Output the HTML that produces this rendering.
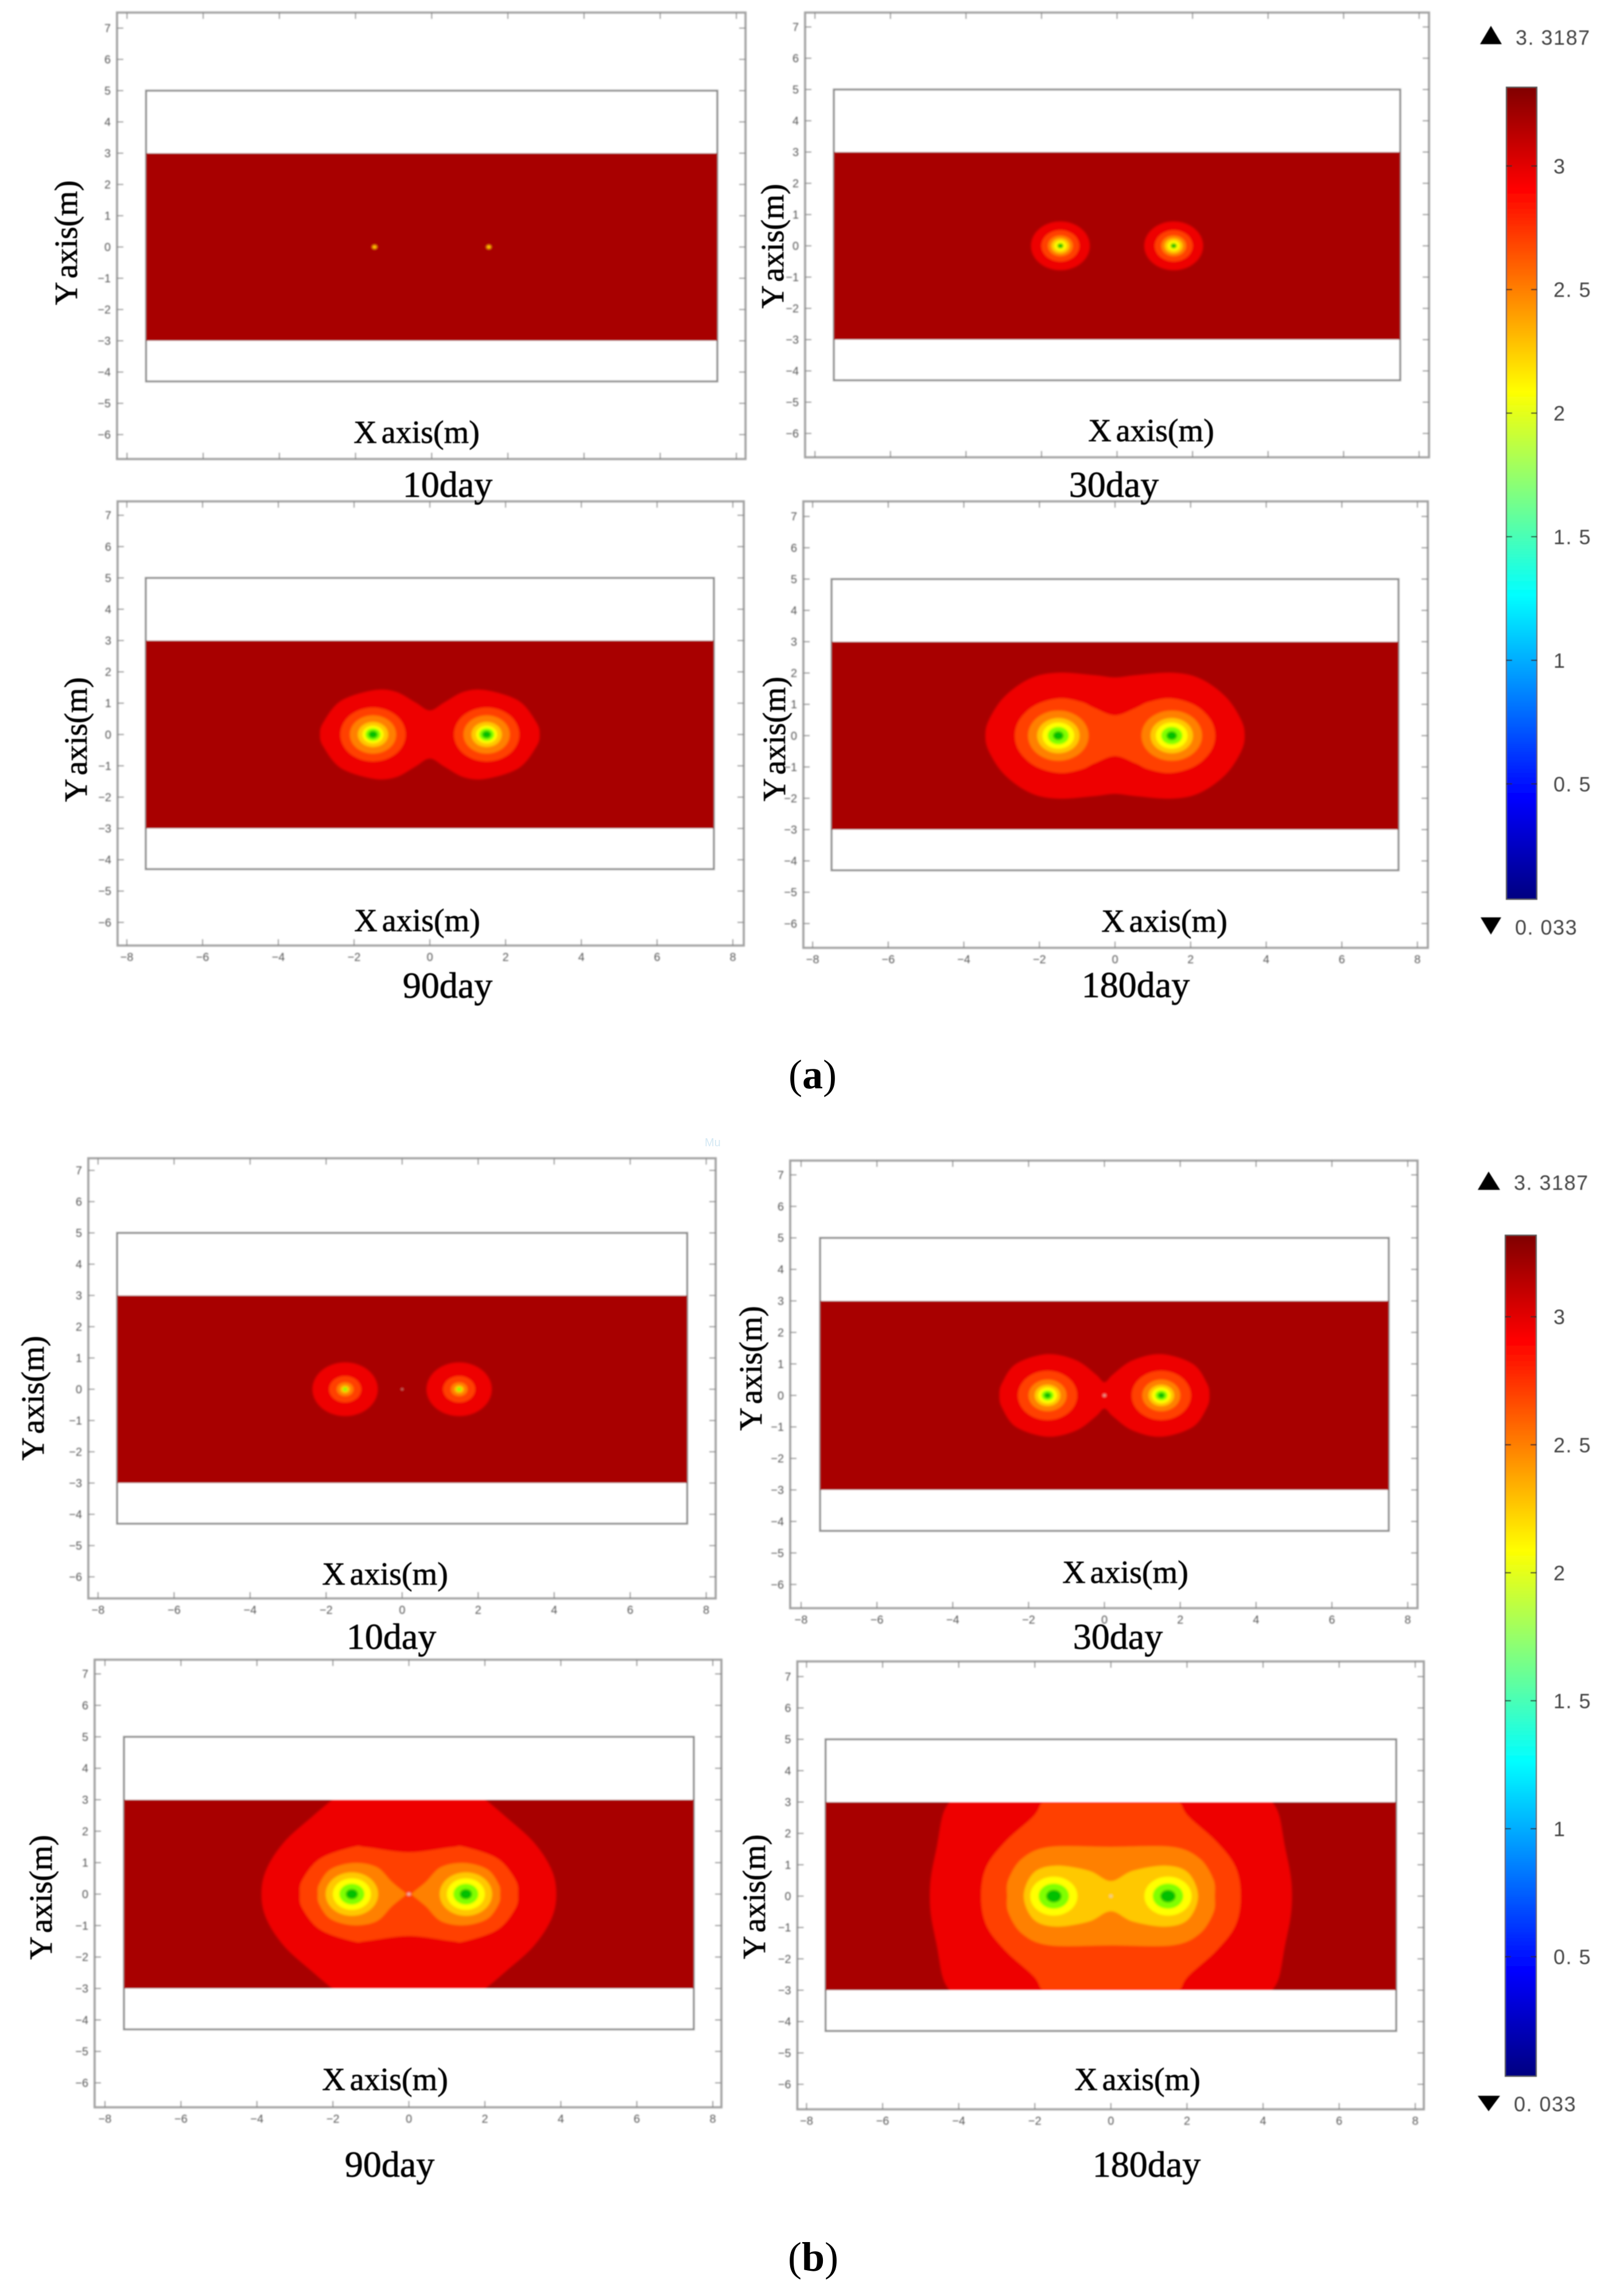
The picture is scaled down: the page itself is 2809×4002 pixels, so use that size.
<!DOCTYPE html>
<html lang="en">
<head>
<meta charset="utf-8">
<title>Contour plots of head distribution at 10, 30, 90 and 180 days</title>
<style>
html,body{margin:0;padding:0;background:#fff;}
svg{display:block;}
.serif{font-family:"Liberation Serif",serif;fill:#000;stroke:#000;stroke-width:0.7px;}
.axis-title{font-size:56px;text-anchor:middle;word-spacing:-6px;}
.day-title{font-size:64px;text-anchor:middle;}
.cbar{font-family:"Liberation Sans",sans-serif;font-size:36px;fill:#444;letter-spacing:1.5px;}
.tick{font-family:"Liberation Sans",sans-serif;font-size:20px;fill:#555;}
</style>
</head>
<body>
<svg id="figure" xmlns="http://www.w3.org/2000/svg" width="2809" height="4002" viewBox="0 0 2809 4002">
  <defs>
    <filter id="soft" filterUnits="userSpaceOnUse" x="0" y="0" width="2809" height="4002"><feGaussianBlur stdDeviation="1.3"/></filter>
    <filter id="softText" filterUnits="userSpaceOnUse" x="0" y="0" width="2809" height="4002"><feGaussianBlur stdDeviation="0.9"/></filter>
    <filter id="softBands" filterUnits="userSpaceOnUse" x="0" y="0" width="2809" height="4002"><feGaussianBlur stdDeviation="1.6"/></filter>
    <linearGradient id="cbarGradient" x1="0" y1="1" x2="0" y2="0"></linearGradient>
  </defs>
  <rect x="0" y="0" width="2809" height="4002" fill="#fff"/>
  <g id="plots" filter="url(#soft)"></g>
  <g id="cbars" filter="url(#softText)">
    <polygon points="2579,77 2617,77 2598,45" fill="#000"/>
    <text class="cbar" x="2641" y="78">3. 3187</text>
    <polygon points="2580,1599 2616,1599 2598,1629" fill="#000"/>
    <text class="cbar" x="2640" y="1629">0. 033</text>
    <polygon points="2575,2074 2614,2074 2594,2042" fill="#000"/>
    <text class="cbar" x="2638" y="2074">3. 3187</text>
    <polygon points="2575,3653 2614,3653 2594,3680" fill="#000"/>
    <text class="cbar" x="2638" y="3680">0. 033</text>
  </g>
  <g id="labels" filter="url(#softText)">
    <text class="serif axis-title" x="726" y="772">X axis(m)</text>
    <text class="serif axis-title" transform="translate(134,423) rotate(-90)">Y axis(m)</text>
    <text class="serif day-title" x="780" y="866">10day</text>

    <text class="serif axis-title" x="2006" y="769">X axis(m)</text>
    <text class="serif axis-title" transform="translate(1365,429) rotate(-90)">Y axis(m)</text>
    <text class="serif day-title" x="1941" y="866">30day</text>

    <text class="serif axis-title" x="727" y="1623">X axis(m)</text>
    <text class="serif axis-title" transform="translate(151,1289) rotate(-90)">Y axis(m)</text>
    <text class="serif day-title" x="780" y="1739">90day</text>

    <text class="serif axis-title" x="2029" y="1624">X axis(m)</text>
    <text class="serif axis-title" transform="translate(1368,1288) rotate(-90)">Y axis(m)</text>
    <text class="serif day-title" x="1979" y="1738">180day</text>

    <text class="serif axis-title" x="671" y="2762">X axis(m)</text>
    <text class="serif axis-title" transform="translate(76,2437) rotate(-90)">Y axis(m)</text>
    <text class="serif day-title" x="682" y="2874">10day</text>

    <text class="serif axis-title" x="1961" y="2759">X axis(m)</text>
    <text class="serif axis-title" transform="translate(1327,2385) rotate(-90)">Y axis(m)</text>
    <text class="serif day-title" x="1948" y="2874">30day</text>

    <text class="serif axis-title" x="671" y="3643">X axis(m)</text>
    <text class="serif axis-title" transform="translate(90,3307) rotate(-90)">Y axis(m)</text>
    <text class="serif day-title" x="679" y="3794">90day</text>

    <text class="serif axis-title" x="1982" y="3643">X axis(m)</text>
    <text class="serif axis-title" transform="translate(1333,3306) rotate(-90)">Y axis(m)</text>
    <text class="serif day-title" x="1998" y="3794">180day</text>
  </g>
  <text x="1416" y="1897" text-anchor="middle" style="font-family:'Liberation Serif',serif;font-size:72px;fill:#000;">(<tspan font-weight="bold">a</tspan>)</text>
  <text x="1417" y="3958" text-anchor="middle" style="font-family:'Liberation Serif',serif;font-size:72px;fill:#000;">(<tspan font-weight="bold">b</tspan>)</text>
  <text x="1228" y="1998" style="font-family:'Liberation Sans',sans-serif;font-size:20px;fill:#d5e9f4;">Mu</text>
</svg>
<script>
// ---- axis values ----
const xTickValues = [-8, -6, -4, -2, 0, 2, 4, 6, 8];
const yTickValues = [7, 6, 5, 4, 3, 2, 1, 0, -1, -2, -3, -4, -5, -6];
const wellPositions = [-1.5, 1.5];

// ---- contour bands: head value and its flat fill ----
const bandLevels = [3.2, 3, 2.75, 2.5, 2.25, 2, 1.6, 1.2];
const bandColors = ['#a80000', '#ee0000', '#ff4000', '#ff8000', '#ffc800', '#ffff00', '#80ff00', '#00c000'];

// ---- colour bar ----
const colorbarMax = 3.3187;
const colorbarMin = 0.033;
const colorbarStopFractions = [0, 0.125, 0.375, 0.625, 0.875, 1];
const colorbarStopColors = ['#000080', '#0000ff', '#00ffff', '#ffff00', '#ff0000', '#800000'];
const colorbarTickValues = [3, 2.5, 2, 1.5, 1, 0.5];
const colorbarTickLabels = ['3', '2. 5', '2', '1. 5', '1', '0. 5'];

// ---- contours, in metres ----
// rings: [level, radius around each well]
// outlines: [level, upper-right quarter outline points [x, y]]
const a10Rings = [[2.25, 0.07]];
const a10Outlines = [];
const a10Spot = [];

const a30Rings = [[3, 0.78], [2.75, 0.5], [2.5, 0.33], [2.25, 0.24], [2, 0.16], [1.2, 0.08]];
const a30Outlines = [];
const a30Spot = [];

const a90Rings = [[2.75, 0.86], [2.5, 0.61], [2.25, 0.4], [2, 0.28], [1.6, 0.2], [1.2, 0.12]];
const a90Outlines = [
  [3, [[0, 0.77], [0.39, 1.03], [0.91, 1.37], [1.5, 1.41], [2.35, 1.07], [2.81, 0.39], [2.9, 0]]]
];
const a90Spot = [];

const a180Rings = [[2.5, 0.8], [2.25, 0.56], [2, 0.42], [1.6, 0.28], [1.2, 0.14]];
const a180Outlines = [
  [3, [[0, 1.86], [0.54, 1.93], [1.5, 2.01], [2.24, 1.83], [2.92, 1.25], [3.33, 0.52], [3.43, 0]]],
  [2.75, [[0, 0.65], [0.54, 0.88], [0.88, 1.07], [1.46, 1.19], [2.1, 0.98], [2.52, 0.52], [2.65, 0]]]
];
const a180Spot = [];

const b10Rings = [[3, 0.86], [2.75, 0.42], [2.5, 0.22], [2.25, 0.12], [1.6, 0.06]];
const b10Outlines = [];
const b10Spot = [0.03];

const b30Rings = [[2.75, 0.78], [2.5, 0.5], [2.25, 0.34], [2, 0.25], [1.6, 0.16], [1.2, 0.09]];
const b30Outlines = [
  [3, [[0, 0.42], [0.23, 0.67], [0.74, 1.11], [1.5, 1.31], [2.33, 1], [2.7, 0.39], [2.77, 0]]]
];
const b30Spot = [0.03];

const b90Rings = [[2.25, 0.69], [2, 0.5], [1.6, 0.33], [1.2, 0.16]];
const b90Outlines = [
  [3, [[0, 3.4], [1.6, 3.4], [2.02, 3], [2.54, 2.47], [3.28, 1.66], [3.75, 0.79], [3.88, 0]]],
  [2.75, [[0, 1.33], [1.12, 1.49], [1.46, 1.5], [2.33, 1.13], [2.8, 0.46], [2.87, 0]]],
  [2.5, [[0.06, 0], [0.12, 0.06], [0.45, 0.39], [0.85, 0.86], [1.46, 0.99], [2.06, 0.79], [2.36, 0.32], [2.4, 0]]]
];
const b90Spot = [0.04];

const b180Rings = [[2, 0.62], [1.6, 0.4], [1.2, 0.2]];
const b180Outlines = [
  [3, [[0, 3.6], [3.9, 3.6], [4.25, 3], [4.43, 2.55], [4.57, 1.61], [4.72, 0.7], [4.76, 0]]],
  [2.75, [[0, 3.4], [1.5, 3.4], [1.81, 3], [2.03, 2.55], [2.76, 1.75], [3.27, 0.94], [3.41, 0]]],
  [2.5, [[0, 1.57], [1.6, 1.57], [2.32, 1.21], [2.69, 0.54], [2.73, 0]]],
  [2.25, [[0, 0.48], [0.58, 0.81], [1.45, 0.97], [2.03, 0.74], [2.29, 0]]]
];
const b180Spot = [0.03];

// ---- drawing ----
const SVGNS = 'http://www.w3.org/2000/svg';
const plotsRoot = document.getElementById('plots');
const cbarsRoot = document.getElementById('cbars');

function make(tag, parent, attrs) {
  const node = document.createElementNS(SVGNS, tag);
  for (const key in attrs) node.setAttribute(key, attrs[key]);
  parent.appendChild(node);
  return node;
}

function bandColor(level) {
  const i = bandLevels.indexOf(level);
  return bandColors[i < 0 ? 0 : i];
}

function smoothClosedPath(pts) {
  const n = pts.length;
  let d = 'M' + pts[0][0].toFixed(1) + ' ' + pts[0][1].toFixed(1);
  for (let i = 0; i < n; i++) {
    const p0 = pts[(i - 1 + n) % n], p1 = pts[i], p2 = pts[(i + 1) % n], p3 = pts[(i + 2) % n];
    const c1x = p1[0] + (p2[0] - p0[0]) / 6, c1y = p1[1] + (p2[1] - p0[1]) / 6;
    const c2x = p2[0] - (p3[0] - p1[0]) / 6, c2y = p2[1] - (p3[1] - p1[1]) / 6;
    d += 'C' + c1x.toFixed(1) + ' ' + c1y.toFixed(1) + ' ' + c2x.toFixed(1) + ' ' + c2y.toFixed(1) + ' ' + p2[0].toFixed(1) + ' ' + p2[1].toFixed(1);
  }
  return d + 'Z';
}

function mergedLoop(q) {
  const right = q.concat(q.slice(0, -1).reverse().map(function (p) { return [p[0], -p[1]]; }));
  const left = right.slice(1, -1).reverse().map(function (p) { return [-p[0], p[1]]; });
  return right.concat(left);
}

function lobeLoop(q) {
  return q.concat(q.slice(1, -1).reverse().map(function (p) { return [p[0], -p[1]]; }));
}

function drawPanel(p) {
  const ux = (p.boxRight - p.boxLeft) / 15;
  const x0 = (p.boxLeft + p.boxRight) / 2;
  const uy = (p.stripBottom - p.stripTop) / 6;
  const y0 = (p.stripBottom + p.stripTop) / 2;
  const sx = function (v) { return x0 + v * ux; };
  const sy = function (v) { return y0 - v * uy; };

  const g = make('g', plotsRoot, {});
  
  

  const frame = make('rect', g, { x: p.left, y: p.top, width: p.right - p.left, height: p.bottom - p.top, fill: '#fff', stroke: '#a4a4a4', 'stroke-width': 4 });
  
  

  xTickValues.forEach(function (v) {
    const x = sx(v);
    const tb = make('line', g, { x1: x, x2: x, y1: p.bottom, y2: p.bottom - 11, stroke: '#8a8a8a', 'stroke-width': 2 });
    
    
    const tt = make('line', g, { x1: x, x2: x, y1: p.top, y2: p.top + 11, stroke: '#8a8a8a', 'stroke-width': 2 });
    
    
    if (p.showXLabels) {
      const lab = make('text', g, { x: x, y: p.bottom + 27, 'text-anchor': 'middle', class: 'tick' });
      lab.textContent = String(v).replace('-', '\u2212');
      
      
    }
  });

  yTickValues.forEach(function (v) {
    const y = sy(v);
    const tl = make('line', g, { x1: p.left, x2: p.left + 11, y1: y, y2: y, stroke: '#8a8a8a', 'stroke-width': 2 });
    
    
    const tr = make('line', g, { x1: p.right, x2: p.right - 11, y1: y, y2: y, stroke: '#8a8a8a', 'stroke-width': 2 });
    
    
    const lab = make('text', g, { x: p.left - 11, y: y + 7, 'text-anchor': 'end', class: 'tick' });
    lab.textContent = String(v).replace('-', '\u2212');
    
    
  });

  const box = make('rect', g, { x: sx(-7.5), y: sy(5), width: sx(7.5) - sx(-7.5), height: sy(-4.3) - sy(5), fill: '#fff', stroke: '#8c8c8c', 'stroke-width': 3.5 });
  
  

  const clip = make('clipPath', g, { id: p.id + '-clip' });
  make('rect', clip, { x: sx(-7.5), y: sy(3), width: sx(7.5) - sx(-7.5), height: sy(-3) - sy(3) });

  const strip = make('rect', g, { x: sx(-7.5), y: sy(3), width: sx(7.5) - sx(-7.5), height: sy(-3) - sy(3), fill: bandColor(bandLevels[0]) });
  
  

  const shapes = [];
  p.outlines.forEach(function (o) { shapes.push({ level: o[0], quarter: o[1] }); });
  p.rings.forEach(function (r) { shapes.push({ level: r[0], radius: r[1] }); });
  shapes.sort(function (a, b) { return b.level - a.level; });

  const clipWrap = make('g', g, { 'clip-path': 'url(#' + p.id + '-clip)' });
  
  
  const contours = make('g', clipWrap, { filter: 'url(#softBands)' });
  
  

  shapes.forEach(function (s) {
    const fill = bandColor(s.level);
    if (s.radius !== undefined) {
      wellPositions.forEach(function (w) {
        const ring = make('ellipse', contours, { cx: sx(w), cy: sy(0), rx: s.radius * ux, ry: s.radius * uy, fill: fill });
        
        
      });
    } else if (s.quarter[0][0] === 0) {
      const pts = mergedLoop(s.quarter).map(function (q) { return [sx(q[0]), sy(q[1])]; });
      const merged = make('path', contours, { d: smoothClosedPath(pts), fill: fill });
      
      
    } else {
      [1, -1].forEach(function (side) {
        const pts = lobeLoop(s.quarter).map(function (q) { return [sx(side * q[0]), sy(q[1])]; });
        const lobe = make('path', contours, { d: smoothClosedPath(pts), fill: fill });
        
        
      });
    }
  });

  p.spot.forEach(function (r) {
    const dot = make('ellipse', contours, { cx: sx(0), cy: sy(0), rx: r * ux, ry: r * uy, fill: '#d8d8c8' });
    
    
  });
}

function drawColorbar(c) {
  const cy = function (v) { return c.top + (colorbarMax - v) / (colorbarMax - colorbarMin) * (c.bottom - c.top); };
  const bar = make('rect', cbarsRoot, { x: c.left, y: c.top, width: c.right - c.left, height: c.bottom - c.top, fill: 'url(#cbarGradient)', stroke: '#555', 'stroke-width': 2 });
  
  
  colorbarTickValues.forEach(function (v, i) {
    const y = cy(v);
    const t1 = make('line', cbarsRoot, { x1: c.left, x2: c.left + 10, y1: y, y2: y, stroke: '#222', 'stroke-width': 2 });
    
    
    const t2 = make('line', cbarsRoot, { x1: c.right, x2: c.right - 10, y1: y, y2: y, stroke: '#222', 'stroke-width': 2 });
    
    
    const lab = make('text', cbarsRoot, { x: 2707, y: y + 13, class: 'cbar' });
    lab.textContent = colorbarTickLabels[i];
    
    
  });
}

const gradient = document.getElementById('cbarGradient');
colorbarStopFractions.forEach(function (f, i) {
  make('stop', gradient, { offset: f, 'stop-color': colorbarStopColors[i] });
});

// panel placement on the page (pixels)
drawPanel({ id: 'a-10day', left: 204, top: 22, right: 1299, bottom: 800, boxLeft: 254.5, boxRight: 1250, stripTop: 267, stripBottom: 594, showXLabels: false, rings: a10Rings, outlines: a10Outlines, spot: a10Spot });
drawPanel({ id: 'a-30day', left: 1403, top: 22, right: 2490, bottom: 797, boxLeft: 1453, boxRight: 2440, stripTop: 265, stripBottom: 592, showXLabels: false, rings: a30Rings, outlines: a30Outlines, spot: a30Spot });
drawPanel({ id: 'a-90day', left: 205, top: 874, right: 1296, bottom: 1648, boxLeft: 254, boxRight: 1244, stripTop: 1116.5, stripBottom: 1444, showXLabels: true, rings: a90Rings, outlines: a90Outlines, spot: a90Spot });
drawPanel({ id: 'a-180day', left: 1400, top: 874, right: 2488, bottom: 1652, boxLeft: 1449, boxRight: 2437, stripTop: 1118.5, stripBottom: 1446, showXLabels: true, rings: a180Rings, outlines: a180Outlines, spot: a180Spot });
drawPanel({ id: 'b-10day', left: 154, top: 2019, right: 1247, bottom: 2786, boxLeft: 204, boxRight: 1197.5, stripTop: 2258, stripBottom: 2585, showXLabels: true, rings: b10Rings, outlines: b10Outlines, spot: b10Spot });
drawPanel({ id: 'b-30day', left: 1377, top: 2023, right: 2470, bottom: 2803, boxLeft: 1429, boxRight: 2420, stripTop: 2267.5, stripBottom: 2597, showXLabels: true, rings: b30Rings, outlines: b30Outlines, spot: b30Spot });
drawPanel({ id: 'b-90day', left: 165, top: 2893, right: 1257, bottom: 3673, boxLeft: 216, boxRight: 1209, stripTop: 3137, stripBottom: 3466, showXLabels: true, rings: b90Rings, outlines: b90Outlines, spot: b90Spot });
drawPanel({ id: 'b-180day', left: 1389.5, top: 2896, right: 2481, bottom: 3676.5, boxLeft: 1438.6, boxRight: 2433, stripTop: 3141, stripBottom: 3469, showXLabels: true, rings: b180Rings, outlines: b180Outlines, spot: b180Spot });

drawColorbar({ id: 'colorbar-a', left: 2625, right: 2678, top: 152, bottom: 1567.5 });
drawColorbar({ id: 'colorbar-b', left: 2623, right: 2677, top: 2153, bottom: 3619 });
</script>
</body>
</html>
